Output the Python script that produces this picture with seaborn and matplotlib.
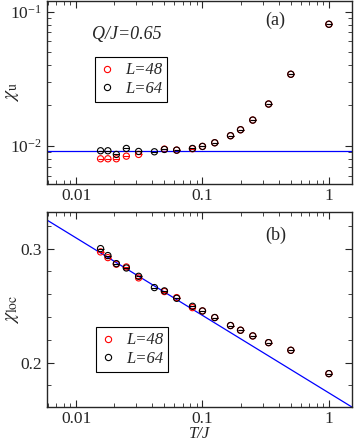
import numpy as np
import pandas as pd
import matplotlib
matplotlib.use("Agg")
import matplotlib.pyplot as plt
import seaborn as sns
from matplotlib.lines import Line2D
from matplotlib.ticker import MultipleLocator, FixedLocator, FixedFormatter

# temperatures T/J
T64 = [1/64, 1/56, 1/48, 1/40, 1/32, 1/24, 1/20, 1/16, 1/12, 1/10, 1/8, 1/6, 1/5, 1/4, 1/3, 1/2, 1.0]
T48 = [1/64, 1/56, 1/48, 1/40, 1/32, 1/20, 1/16, 1/12, 1/10, 1/8, 1/6, 1/5, 1/4, 1/3, 1/2, 1.0]

# panel (a): uniform susceptibility
chi_u_64 = [0.00918, 0.00918, 0.00862, 0.00955, 0.00907, 0.00902, 0.00939, 0.00928, 0.00955,
            0.00989, 0.01053, 0.01188, 0.01316, 0.01554, 0.02046, 0.0341, 0.0804]
chi_u_48 = [0.00800, 0.00800, 0.00800, 0.00837, 0.00862, 0.00944, 0.00928, 0.00950,
            0.00989, 0.01053, 0.01188, 0.01316, 0.01554, 0.02046, 0.0341, 0.0804]
chi_u_level = 0.00908

# panel (b): local susceptibility
chi_loc_64 = [0.3000, 0.2939, 0.2868, 0.2830, 0.2757, 0.2658, 0.2629, 0.2564, 0.2494,
              0.2453, 0.2395, 0.2325, 0.2284, 0.2234, 0.2175, 0.2108, 0.1903]
chi_loc_48 = [0.2971, 0.2921, 0.2863, 0.2839, 0.2743, 0.2623, 0.2570, 0.2482,
              0.2453, 0.2395, 0.2325, 0.2284, 0.2234, 0.2175, 0.2108, 0.1903]
fit_a, fit_b = 0.1734, -0.068  # chi_loc = a + b*log10(T)

sns.set_style("ticks")
plt.rcParams["font.family"] = ["Liberation Serif", "DejaVu Serif"]
plt.rcParams["mathtext.fontset"] = "stix"
plt.rcParams["font.size"] = 12

df = pd.concat([
    pd.DataFrame({"T": T48, "chi_u": chi_u_48, "chi_loc": chi_loc_48, "L": "L=48"}),
    pd.DataFrame({"T": T64, "chi_u": chi_u_64, "chi_loc": chi_loc_64, "L": "L=64"}),
])
pal = {"L=48": "red", "L=64": "black"}

fig = plt.figure(figsize=(3.54, 4.41), dpi=100)
ax1 = fig.add_axes([0.133, 0.583, 0.861, 0.415])
ax2 = fig.add_axes([0.133, 0.077, 0.861, 0.442])


def draw_points(ax, ycol):
    for lab in ["L=48", "L=64"]:
        sub = df[df["L"] == lab]
        sns.scatterplot(data=sub, x="T", y=ycol, ax=ax, marker="o", s=20,
                        facecolor="none", edgecolor=pal[lab], linewidth=0.8,
                        legend=False, zorder=3)
        sns.scatterplot(data=sub, x="T", y=ycol, ax=ax, marker="_", s=20,
                        color=pal[lab], linewidth=0.8, legend=False, zorder=3)


def style_axis(ax):
    ax.set_xscale("log")
    ax.set_xlim(0.0059, 1.52)
    ax.tick_params(which="both", direction="in", top=True, right=True, labelsize=12.5)
    ax.tick_params(which="major", length=5, width=0.8)
    ax.tick_params(which="minor", length=3, width=0.6)
    ax.tick_params(axis="x", which="major", pad=3)
    ax.tick_params(axis="y", which="major", pad=4)
    ax.xaxis.set_major_locator(FixedLocator([0.01, 0.1, 1]))
    ax.xaxis.set_major_formatter(FixedFormatter(["0.01", "0.1", "1"]))
    for s in ax.spines.values():
        s.set_linewidth(1.0)
    handles = [Line2D([], [], marker="o", ls="none", mfc="none", mec=pal[k], ms=4.5, mew=0.8)
               for k in ["L=48", "L=64"]]
    return handles


def add_legend(ax, handles, anchor):
    leg = ax.legend(handles, ["L=48", "L=64"], loc="lower left", bbox_to_anchor=anchor,
                    frameon=True, fancybox=False, edgecolor="black", framealpha=1,
                    handlelength=0.8, handletextpad=0.7, borderpad=0.3, labelspacing=0.15,
                    borderaxespad=0, prop={"style": "italic", "size": 12})
    leg.get_frame().set_linewidth(0.8)


# panel (a)
draw_points(ax1, "chi_u")
ax1.axhline(chi_u_level, color="blue", lw=0.9, zorder=2)
h = style_axis(ax1)
ax1.set_yscale("log")
ax1.set_ylim(0.0052, 0.12)
ax1.set_ylabel(r"$\chi_{\rm u}$", fontsize=14)
ax1.yaxis.set_label_coords(-0.085, 0.5)
ax1.set_xlabel("")
ax1.text(0.148, 0.79, "Q/J=0.65", transform=ax1.transAxes, fontsize=13, style="italic")
ax1.text(0.75, 0.87, "(a)", transform=ax1.transAxes, fontsize=13, ha="center")
add_legend(ax1, h, (0.157, 0.448))

# panel (b)
draw_points(ax2, "chi_loc")
tt = np.array([0.005, 2.0])
ax2.plot(tt, fit_a + fit_b * np.log10(tt), color="blue", lw=0.9, zorder=2)
h = style_axis(ax2)
ax2.set_ylim(0.161, 0.332)
ax2.yaxis.set_major_locator(MultipleLocator(0.1))
ax2.yaxis.set_minor_locator(MultipleLocator(0.02))
ax2.set_ylabel(r"$\chi_{\rm loc}$", fontsize=14)
ax2.yaxis.set_label_coords(-0.085, 0.5)
ax2.set_xlabel("T/J", fontsize=12, style="italic")
ax2.xaxis.set_label_coords(0.5, -0.098)
ax2.text(0.75, 0.855, "(b)", transform=ax2.transAxes, fontsize=13, ha="center")
add_legend(ax2, h, (0.16, 0.18))

fig.savefig("out.png", dpi=100)
